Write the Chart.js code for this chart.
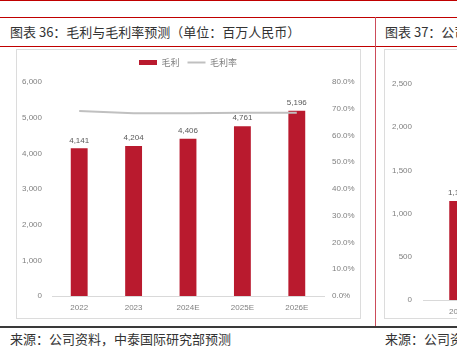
<!DOCTYPE html>
<html>
<head>
<meta charset="utf-8">
<script src="https://cdn.jsdelivr.net/npm/chart.js@4.4.1/dist/chart.umd.min.js"></script>
<style>
body{margin:0;width:457px;height:349px;overflow:hidden;background:#fff;position:relative;font-family:'Noto Sans CJK SC',sans-serif;color:#333}
.abs{position:absolute}
.red{background:#C00000}
.title{top:17px;height:29px;line-height:29px;font-size:13px;white-space:nowrap}
.foot{top:329px;height:20px;line-height:20px;font-size:13px;white-space:nowrap}
.panel{border:1px solid #dcdcdc;box-sizing:border-box}
</style>
</head>
<body>
<div class="abs red" style="left:0;top:0;width:457px;height:1px"></div>
<div class="abs red" style="left:0;top:17px;width:457px;height:1px"></div>
<div class="abs red" style="left:0;top:46px;width:457px;height:1px"></div>
<div class="abs" style="left:375px;top:17px;width:1px;height:310px;background:#cc4c5a"></div>

<div class="abs title" style="left:10px">图表 36：毛利与毛利率预测（单位：百万人民币）</div>
<div class="abs title" style="left:385px">图表 37：公司净利润预测（单位：百万人民币）</div>

<div class="abs panel" style="left:16px;top:49px;width:345px;height:270px"></div>
<div class="abs panel" style="left:384px;top:49px;width:200px;height:270px"></div>

<canvas id="c1" class="abs" width="344" height="269" style="left:16px;top:49px"></canvas>
<div class="abs" style="left:384px;top:49px;width:73px;height:269px;overflow:hidden">
  <canvas id="c2" class="abs" width="409" height="269" style="left:0;top:0"></canvas>
</div>

<div class="abs" style="left:0;top:326px;width:457px;height:2px;background:#3a3a3a"></div>
<div class="abs foot" style="left:10px">来源：公司资料，中泰国际研究部预测</div>
<div class="abs foot" style="left:385px">来源：公司资料，中泰国际研究部预测</div>

<script>
// chart data
const years = ['2022', '2023', '2024E', '2025E', '2026E'];
const grossProfit = [4141, 4204, 4406, 4761, 5196];
const grossMargin = [69.2, 68.3, 68.3, 68.5, 68.5];
const profitTicks = [0, 1000, 2000, 3000, 4000, 5000, 6000];
const marginTicks = [0, 10, 20, 30, 40, 50, 60, 70, 80];

// second (cut off) chart, only the first bar is visible
const netYears = ['2022', '2023', '2024E', '2025E', '2026E'];
const netProfit = [1146];
const netTicks = [0, 500, 1000, 1500, 2000, 2500];

const RED = '#B91A2E';
const GREY = '#C0C0C0';
const numFont = "'Liberation Sans', 'Noto Sans CJK SC', sans-serif";

function fmt(v) {
    return v.toString().replace(/\B(?=(\d{3})+(?!\d))/g, ',');
}

const barLabels = {
    id: 'barLabels',
    afterDatasetsDraw(chart) {
        const meta = chart.getDatasetMeta(0);
        const data = chart.data.datasets[0].data;
        const c = chart.ctx;
        c.save();
        c.font = '8px ' + numFont;
        c.fillStyle = '#595959';
        c.textAlign = 'center';
        c.textBaseline = 'bottom';
        meta.data.forEach((bar, i) => {
            if (data[i] == null) return;
            c.fillText(fmt(data[i]), bar.x, bar.y - 4);
        });
        c.restore();
    }
};

// extra room under the legend
const legendGap = {
    id: 'legendGap',
    beforeInit(chart) {
        const fit = chart.legend.fit;
        chart.legend.fit = function () {
            fit.call(this);
            this.height += 5;
        };
    }
};

Chart.defaults.font.family = numFont;
Chart.defaults.font.size = 8;
Chart.defaults.color = '#808080';
Chart.defaults.animation = false;

const legendDefault = Chart.defaults.plugins.legend.labels.generateLabels;

new Chart(document.getElementById('c1'), {
    type: 'bar',
    data: {
        labels: years,
        datasets: [{
            label: '毛利',
            data: grossProfit,
            backgroundColor: RED,
            borderWidth: 0,
            categoryPercentage: 0.31,
            barPercentage: 1,
            yAxisID: 'y',
            order: 2
        }, {
            type: 'line',
            label: '毛利率',
            data: grossMargin,
            borderColor: GREY,
            backgroundColor: GREY,
            borderWidth: 2,
            pointRadius: 0,
            tension: 0,
            yAxisID: 'y1',
            order: 1
        }]
    },
    options: {
        responsive: false,
        layout: { padding: { top: 1 } },
        plugins: {
            legend: {
                position: 'top',
                labels: {
                    font: { size: 9, family: "'Noto Sans CJK SC', sans-serif" },
                    color: '#808080',
                    usePointStyle: true,
                    pointStyleWidth: 18,
                    boxHeight: 5,
                    padding: 8,
                    sort: (a, b) => a.datasetIndex - b.datasetIndex,
                    generateLabels(chart) {
                        const items = legendDefault(chart);
                        items.forEach(it => {
                            it.pointStyle = it.datasetIndex === 0 ? 'rect' : 'line';
                        });
                        return items;
                    }
                }
            },
            tooltip: { enabled: false }
        },
        scales: {
            x: {
                grid: { display: false, drawTicks: false },
                border: { display: true, color: '#d9d9d9' },
                ticks: { padding: 7 },
                afterFit(s) { s.height = 22; }
            },
            y: {
                position: 'left',
                min: profitTicks[0],
                max: profitTicks[profitTicks.length - 1],
                grid: { display: false, drawTicks: false },
                border: { display: false },
                ticks: { stepSize: 1000, padding: 10, callback: v => fmt(v) },
                afterFit(s) { s.width = 36; }
            },
            y1: {
                position: 'right',
                min: marginTicks[0],
                max: marginTicks[marginTicks.length - 1],
                grid: { display: false, drawTicks: false },
                border: { display: false },
                ticks: { stepSize: 10, padding: 8, callback: v => v.toFixed(1) + '%' },
                afterFit(s) { s.width = 36; }
            }
        }
    },
    plugins: [barLabels, legendGap]
});

new Chart(document.getElementById('c2'), {
    type: 'bar',
    data: {
        labels: netYears,
        datasets: [{
            label: '净利润',
            data: netProfit,
            backgroundColor: RED,
            borderWidth: 0,
            categoryPercentage: 0.25,
            barPercentage: 1
        }]
    },
    options: {
        responsive: false,
        layout: { padding: { top: 35, right: 20 } },
        plugins: { legend: { display: false }, tooltip: { enabled: false } },
        scales: {
            x: {
                grid: { display: false, drawTicks: false },
                border: { display: true, color: '#d9d9d9' },
                ticks: { padding: 7 },
                afterFit(s) { s.height = 18; }
            },
            y: {
                min: netTicks[0],
                max: netTicks[netTicks.length - 1],
                grid: { display: false, drawTicks: false },
                border: { display: false },
                ticks: { stepSize: 500, padding: 11, callback: v => fmt(v) },
                afterFit(s) { s.width = 39; }
            }
        }
    },
    plugins: [barLabels]
});
</script>
</body>
</html>
